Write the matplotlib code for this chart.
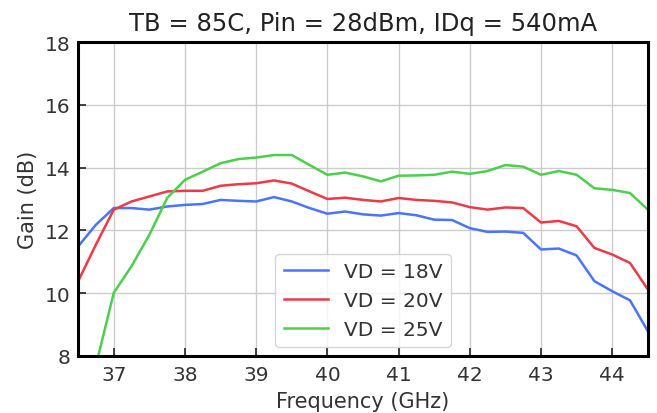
import matplotlib
matplotlib.use("Agg")
import matplotlib.pyplot as plt
import numpy as np

freq = [36.5, 36.75, 37.0, 37.25, 37.5, 37.75, 38.0, 38.25, 38.5, 38.75, 39.0,
        39.25, 39.5, 39.75, 40.0, 40.25, 40.5, 40.75, 41.0, 41.25, 41.5, 41.75,
        42.0, 42.25, 42.5, 42.75, 43.0, 43.25, 43.5, 43.75, 44.0, 44.25, 44.5]

gain_18v = [11.49, 12.18, 12.71, 12.71, 12.66, 12.76, 12.81, 12.84, 12.97, 12.94, 12.92,
            13.06, 12.92, 12.71, 12.53, 12.60, 12.51, 12.47, 12.55, 12.48, 12.34, 12.33,
            12.07, 11.95, 11.96, 11.92, 11.39, 11.42, 11.20, 10.38, 10.06, 9.77, 8.79]

gain_20v = [10.38, 11.55, 12.66, 12.92, 13.08, 13.24, 13.26, 13.26, 13.42, 13.47, 13.50,
            13.59, 13.49, 13.24, 13.00, 13.04, 12.97, 12.92, 13.03, 12.97, 12.94, 12.89,
            12.74, 12.66, 12.73, 12.71, 12.25, 12.30, 12.13, 11.44, 11.23, 10.96, 10.12]

gain_25v = [5.5, 7.7, 10.01, 10.86, 11.86, 13.03, 13.61, 13.87, 14.14, 14.27, 14.32,
            14.40, 14.40, 14.08, 13.77, 13.84, 13.72, 13.56, 13.74, 13.75, 13.77, 13.87,
            13.80, 13.89, 14.08, 14.03, 13.77, 13.89, 13.77, 13.34, 13.29, 13.19, 12.66]

labels = ["VD = 18V", "VD = 20V", "VD = 25V"]
colors = ["#4a74ff", "#ec3a46", "#4ccf4c"]

fig = plt.figure(figsize=(6.57, 4.14), dpi=100)
ax = fig.add_axes([0.119, 0.138, 0.867, 0.758])

for g, lab, c in zip([gain_18v, gain_20v, gain_25v], labels, colors):
    ax.plot(freq, g, color=c, lw=1.8, label=lab)

ax.set_xlim(36.5, 44.5)
ax.set_ylim(8, 18)
ax.set_xticks(np.arange(37, 45, 1))
ax.set_yticks(np.arange(8, 19, 2))
ax.grid(True, color="#cccccc", lw=1.0)
ax.set_axisbelow(True)
ax.tick_params(direction="in", labelsize=14.5, length=6, width=1.2, colors="#222222",
               labelcolor="#333333")
ax.tick_params(axis="x", pad=6.5)
ax.tick_params(axis="y", pad=5.5)
for s in ax.spines.values():
    s.set_linewidth(2.2)
    s.set_color("black")
ax.set_xlabel("Frequency (GHz)", fontsize=15, color="#333333", labelpad=5)
ax.set_ylabel("Gain (dB)", fontsize=15, color="#333333", labelpad=5)
ax.set_title("TB = 85C, Pin = 28dBm, IDq = 540mA", fontsize=17.5, color="#222222", pad=9)
leg = ax.legend(loc="lower center", fontsize=14.5, framealpha=0.8, edgecolor="#cccccc",
                handlelength=2.2, borderaxespad=0.45, labelspacing=0.5)
for t in leg.get_texts():
    t.set_color("#333333")

fig.savefig("out.png", dpi=100)
